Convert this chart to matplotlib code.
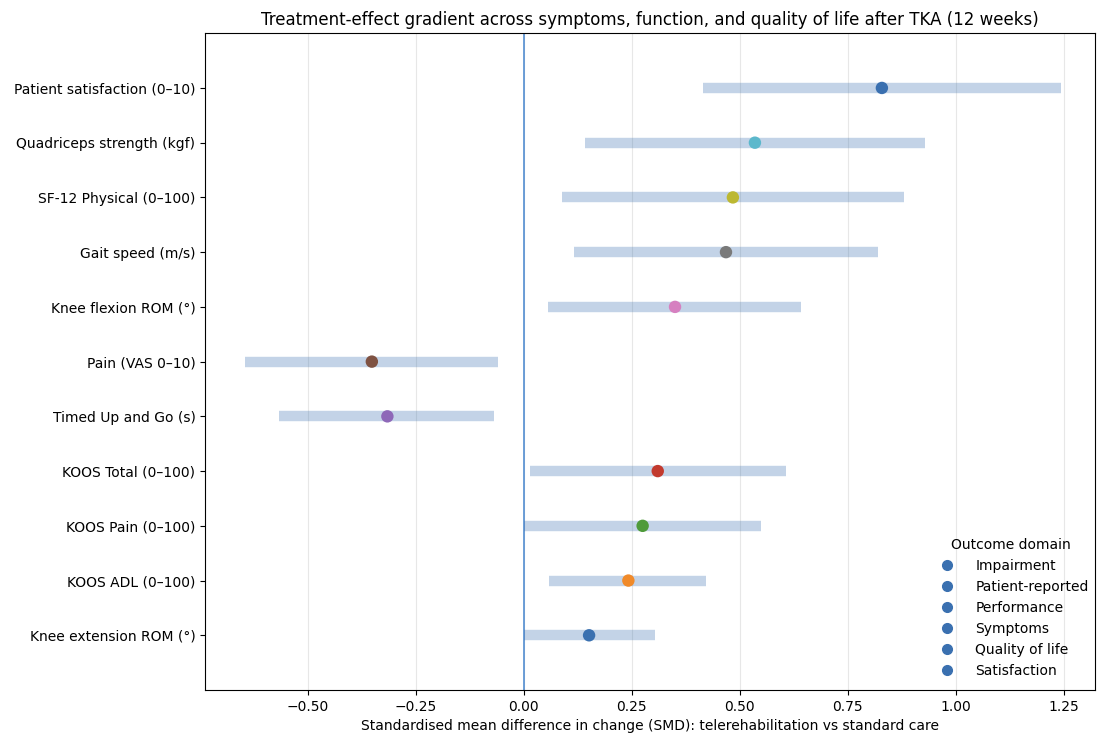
import matplotlib.pyplot as plt
from matplotlib.lines import Line2D

# outcomes listed bottom to top
outcomes = ["Knee extension ROM (°)", "KOOS ADL (0–100)", "KOOS Pain (0–100)",
            "KOOS Total (0–100)", "Timed Up and Go (s)", "Pain (VAS 0–10)",
            "Knee flexion ROM (°)", "Gait speed (m/s)", "SF-12 Physical (0–100)",
            "Quadriceps strength (kgf)", "Patient satisfaction (0–10)"]
smd = [0.151, 0.242, 0.275, 0.310, -0.316, -0.352, 0.350, 0.468, 0.484, 0.535, 0.829]
ci_low = [0.0, 0.059, 0.0, 0.014, -0.567, -0.646, 0.056, 0.116, 0.088, 0.141, 0.414]
ci_high = [0.304, 0.422, 0.548, 0.606, -0.069, -0.060, 0.642, 0.819, 0.880, 0.928, 1.243]

domains = ["Impairment", "Patient-reported", "Performance", "Symptoms",
           "Quality of life", "Satisfaction"]

colors = ["#3a70b0", "#f08a2a", "#4f9b3a", "#c23a2e", "#8e68b8", "#7f5242",
          "#d680c0", "#7a7a7a", "#bcb832", "#5cb8cc", "#3a70b0"]
blue = "#3a70b0"

fig = plt.figure(figsize=(10.97, 7.38), dpi=100)
ax = fig.add_axes([0.187, 0.065, 0.811, 0.89])

ypos = list(range(len(outcomes)))
for i in ypos:
    ax.plot([ci_low[i], ci_high[i]], [i, i], color=blue, alpha=0.3,
            lw=7.5, solid_capstyle="butt", zorder=2)
    ax.scatter(smd[i], i, s=80, color=colors[i], zorder=3, edgecolors="none")

ax.axvline(0, color="#4f8bd0", lw=1.3, alpha=0.9, zorder=1)

ax.set_yticks(ypos)
ax.set_yticklabels(outcomes)
ax.set_ylim(-1, len(outcomes))
ax.set_xlim(-0.738, 1.322)
ax.set_xticks([-0.5, -0.25, 0.0, 0.25, 0.5, 0.75, 1.0, 1.25])
ax.grid(axis="x", color="#dddddd", alpha=0.7, lw=0.8)
ax.set_axisbelow(True)

ax.set_xlabel("Standardised mean difference in change (SMD): telerehabilitation vs standard care")
ax.set_title("Treatment-effect gradient across symptoms, function, and quality of life after TKA (12 weeks)",
             fontsize=12)

handles = [Line2D([0], [0], marker="o", linestyle="none", color=blue,
                  markersize=7) for d in domains]
ax.legend(handles, domains, title="Outcome domain", loc="lower right",
          bbox_to_anchor=(1.007, 0.0), frameon=False, fontsize=10,
          handletextpad=1.0)

fig.savefig("out.png", dpi=100)
